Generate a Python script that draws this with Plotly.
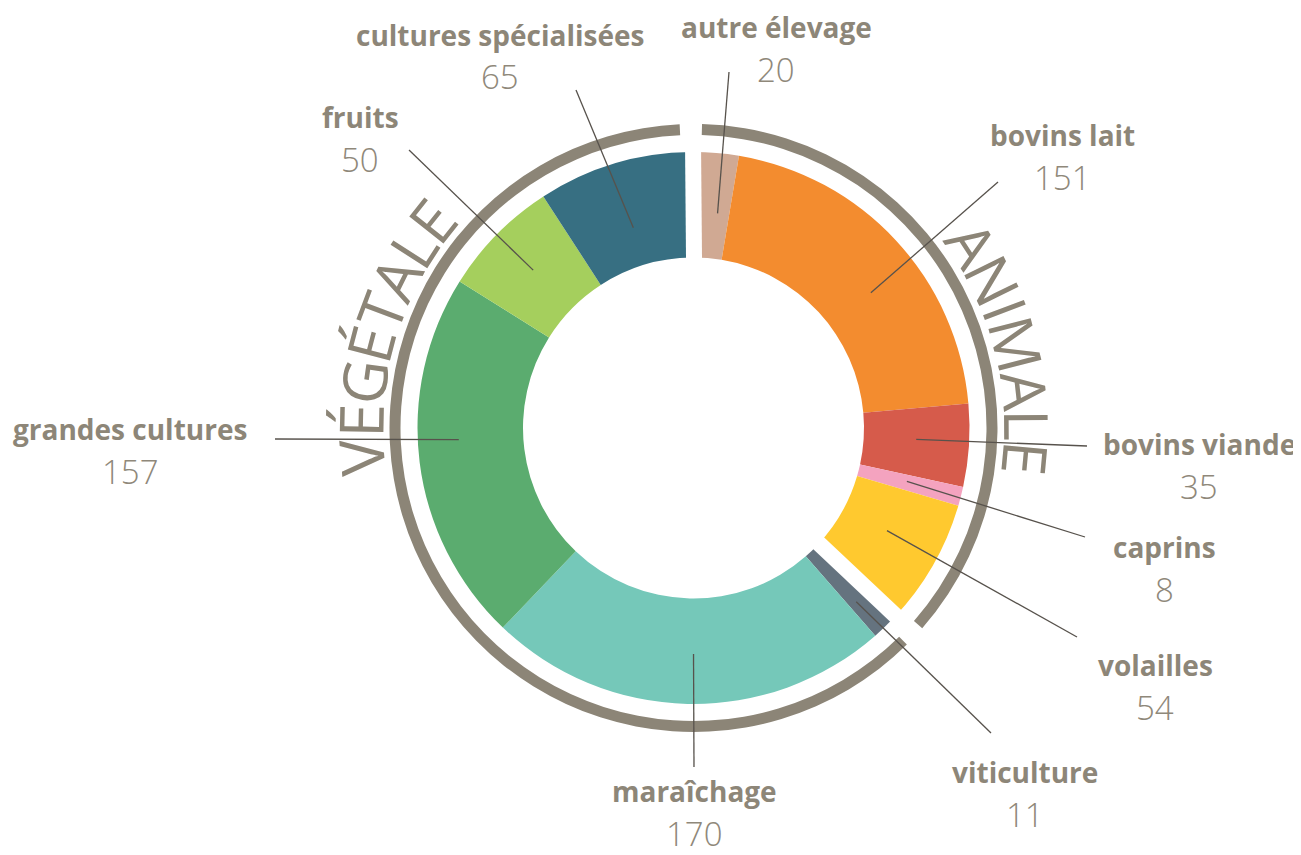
import math
import plotly.graph_objects as go

# ---------------- data ----------------
categories = ["autre élevage", "bovins lait", "bovins viande", "caprins", "volailles",
              "viticulture", "maraîchage", "grandes cultures", "fruits", "cultures spécialisées"]
values = [20, 151, 35, 8, 54, 11, 170, 157, 50, 65]
group_of = ["ANIMALE", "ANIMALE", "ANIMALE", "ANIMALE", "ANIMALE",
            "VÉGÉTALE", "VÉGÉTALE", "VÉGÉTALE", "VÉGÉTALE", "VÉGÉTALE"]
group_names = ["ANIMALE", "VÉGÉTALE"]

# ---------------- styles / layout ----------------
slice_colors = ["#D0A993", "#F38C2F", "#D65B4B", "#F4A3BF", "#FFC92F",
                "#65737F", "#75C8B9", "#5BAC6F", "#A5CF5D", "#376F82"]
GRAY = "#8C8577"
TEXT_COL = "#8D8678"
VAL_COL = "#8F887A"
LINE_COL = "#57524C"
FONT = "Open Sans"

W, H = 1301, 855          # browser viewport
OFF = 8                   # default page (body) margin
FW, FH = W - OFF, H - OFF # figure size
CX, CY = 693.5, 428.0     # page-pixel centre of the donut
R_OUT, R_IN = 276.0, 170.5
RING_IN, RING_OUT = 293.0, 304.0
ROT = -0.5
GAP_PX = 16
GAP_SHIFT = 2.0
RING_GAP_PX = 22

# label layout (page px): name centres and leader end points, same order as categories
label_xy = [(776, 27), (1062, 135), (1199, 444), (1164, 547), (1155, 665),
            (1025, 772), (694, 791), (130, 429), (360, 117), (500, 35)]
leader_end = [(729, 72), (998, 182), (1087, 446), (1085, 537), (1077, 637),
              (991, 733), (694, 767), (275, 439), (409, 150), (576, 90)]
leader_nudge = [1.9, 5.5, -0.7, -0.3, -1.9, 0.8, -1.25, 4.3, 0.0, 0.0]
leader_r = [216, 223, 223, 220, 219, 238, 226, 235, 225, 209]
VALUE_DY = 42

arc_title_mid = {"ANIMALE": 75.7, "VÉGÉTALE": 286.6}
ARC_FS = 61
ARC_R = 334.0
LETTER_W = {"A": 0.633, "N": 0.752, "I": 0.294, "M": 0.9, "L": 0.524, "E": 0.558,
            "É": 0.558, "V": 0.61, "G": 0.725, "T": 0.556}


def px(theta_deg, r):
    t = math.radians(theta_deg)
    return CX + r * math.sin(t), CY - r * math.cos(t)


def paper(x, y):
    return (x - OFF) / FW, 1 - (y - OFF) / FH


def domain(r):
    x0, y0 = paper(CX - r, CY + r)
    x1, y1 = paper(CX + r, CY - r)
    return dict(x=[x0, x1], y=[y0, y1])


total = sum(values)
group_totals = [sum(v for v, g in zip(values, group_of) if g == name) for name in group_names]

fig = go.Figure()

# outer group arcs (ring)
ring_mid = (RING_IN + RING_OUT) / 2
gap_val = RING_GAP_PX / ring_mid / (2 * math.pi) * total
gap_deg = gap_val / total * 360
ring_vals, ring_cols, ring_labels = [], [], []
for name, gt in zip(group_names, group_totals):
    ring_vals += [gt - gap_val, gap_val]
    ring_cols += [GRAY, "rgba(0,0,0,0)"]
    ring_labels += [name, name + " gap"]
fig.add_trace(go.Pie(
    values=ring_vals, labels=ring_labels,
    sort=False, direction="clockwise", rotation=ROT + gap_deg / 2,
    hole=RING_IN / RING_OUT, textinfo="none", textposition="none",
    marker=dict(colors=ring_cols, line=dict(width=0)),
    hoverinfo="skip", showlegend=False, domain=domain(RING_OUT),
))

# main donut
fig.add_trace(go.Pie(
    values=values, labels=categories, sort=False, direction="clockwise",
    rotation=ROT, hole=R_IN / R_OUT, textinfo="none", textposition="none",
    marker=dict(colors=slice_colors, line=dict(width=0)),
    hovertemplate="%{label}: %{value}<extra></extra>", showlegend=False,
    domain=domain(R_OUT),
))

shapes = []
# white gaps at the two group boundaries (shifted slightly into the animal side)
bounds = [(ROT, +1), (ROT + group_totals[0] / total * 360, -1)]
for ang, sgn in bounds:
    t = math.radians(ang)
    ox, oy = sgn * GAP_SHIFT * math.cos(t), sgn * GAP_SHIFT * math.sin(t)
    x0, y0 = px(ang, 0)
    x1, y1 = px(ang, R_OUT + 3)
    a0 = paper(x0 + ox, y0 + oy)
    a1 = paper(x1 + ox, y1 + oy)
    shapes.append(dict(type="line", xref="paper", yref="paper", layer="above",
                       x0=a0[0], y0=a0[1], x1=a1[0], y1=a1[1],
                       line=dict(color="white", width=GAP_PX)))

# leader lines starting inside each slice (at its mid-angle)
cum = 0
mid_angles = []
for v in values:
    mid_angles.append(ROT + (cum + v / 2) / total * 360)
    cum += v
for ang, nd, rr, end in zip(mid_angles, leader_nudge, leader_r, leader_end):
    s = paper(*px(ang + nd, rr))
    e = paper(*end)
    shapes.append(dict(type="line", xref="paper", yref="paper", layer="above",
                       x0=s[0], y0=s[1], x1=e[0], y1=e[1],
                       line=dict(color=LINE_COL, width=1.3)))

annotations = []
for name, v, (lx, ly) in zip(categories, values, label_xy):
    p = paper(lx, ly)
    annotations.append(dict(x=p[0], y=p[1], xref="paper", yref="paper", text=name,
                            showarrow=False, xanchor="center", yanchor="middle",
                            font=dict(family=FONT, size=28, color=TEXT_COL, weight=700)))
    q = paper(lx, ly + VALUE_DY)
    annotations.append(dict(x=q[0], y=q[1], xref="paper", yref="paper", text=str(v),
                            showarrow=False, xanchor="center", yanchor="middle",
                            font=dict(family=FONT, size=33, color=VAL_COL, weight=300)))

# curved group titles
for word in group_names:
    mid = arc_title_mid[word]
    widths = [LETTER_W[c] * ARC_FS for c in word]
    start = mid - math.degrees(sum(widths) / 2 / ARC_R)
    acc = 0.0
    for c, w in zip(word, widths):
        ang = start + math.degrees((acc + w / 2) / ARC_R)
        acc += w
        p = paper(*px(ang, ARC_R))
        ta = ang if ang <= 180 else ang - 360
        annotations.append(dict(x=p[0], y=p[1], xref="paper", yref="paper", text=c,
                                showarrow=False, xanchor="center", yanchor="middle",
                                textangle=ta,
                                font=dict(family=FONT, size=ARC_FS, color=GRAY, weight=400)))

fig.update_layout(
    width=FW, height=FH, margin=dict(l=0, r=0, t=0, b=0),
    paper_bgcolor="white", plot_bgcolor="white",
    showlegend=False, shapes=shapes, annotations=annotations,
)

fig.write_html("out.html", config={"displayModeBar": False})
